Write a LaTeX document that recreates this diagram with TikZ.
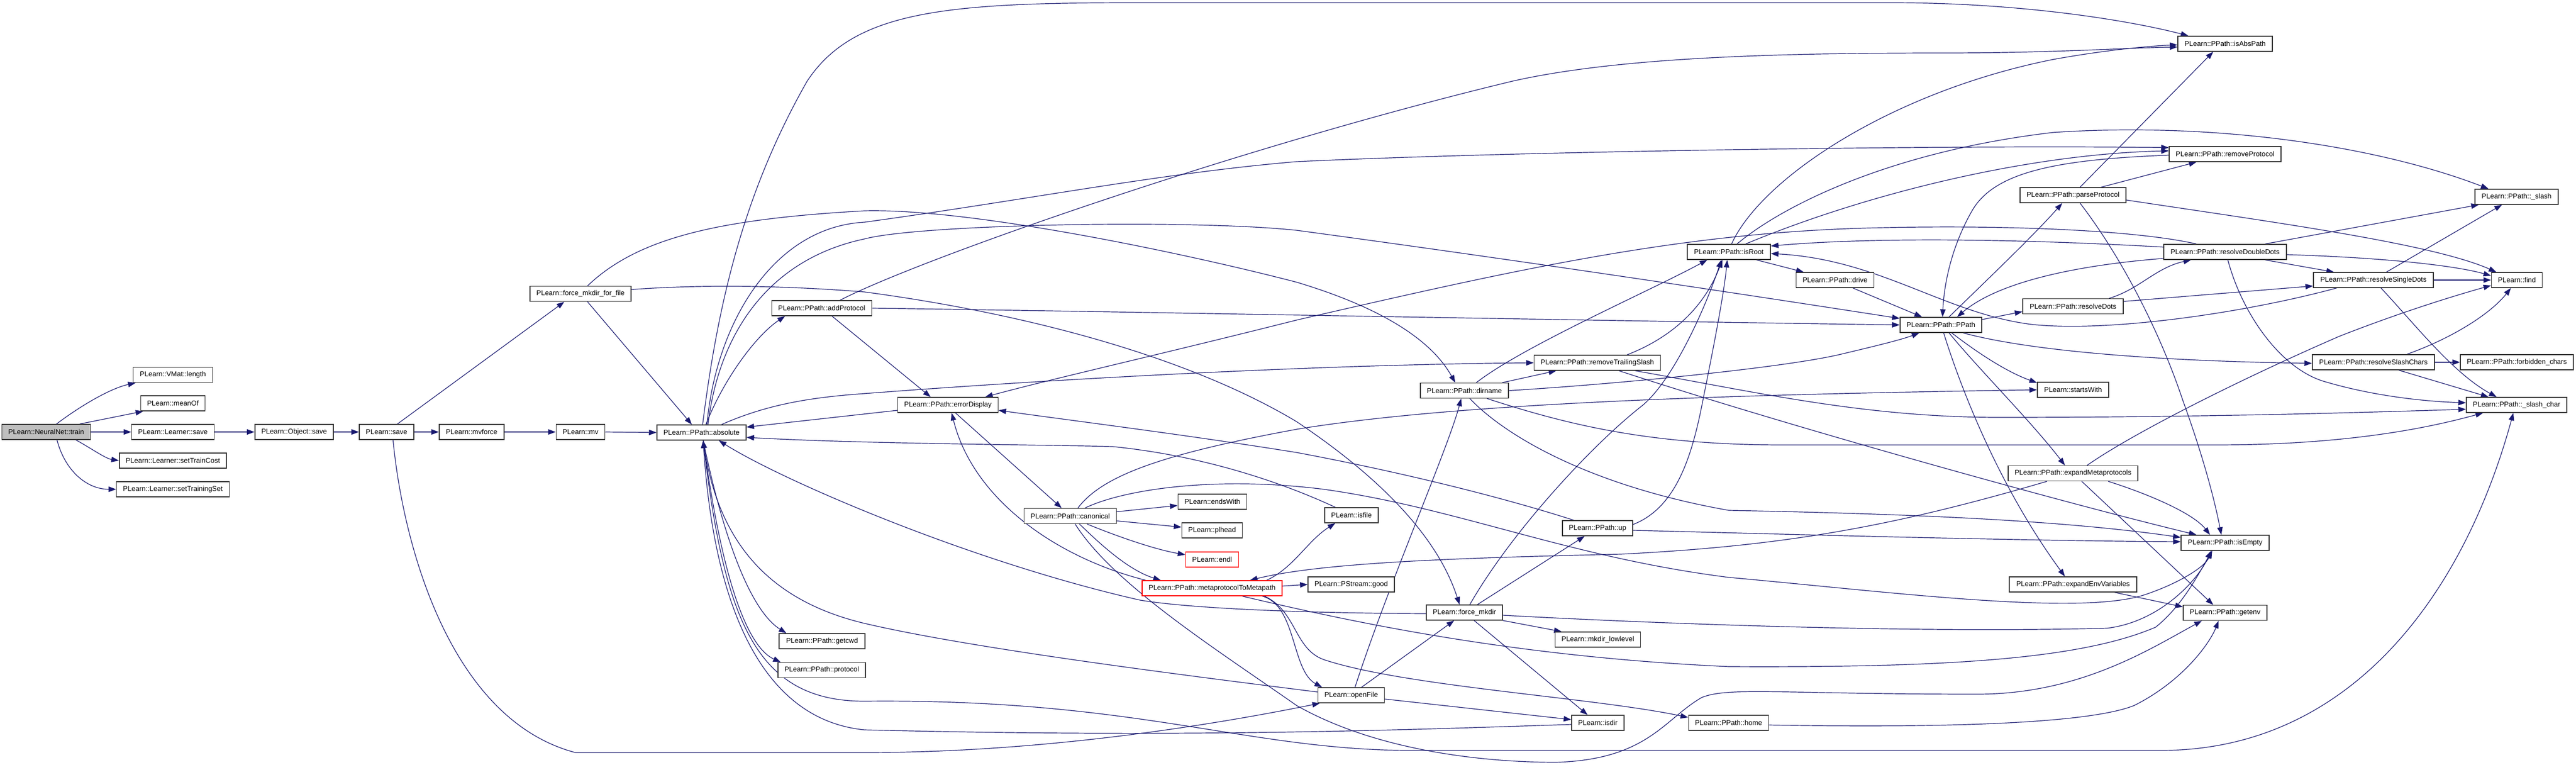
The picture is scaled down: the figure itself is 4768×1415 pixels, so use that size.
\documentclass[tikz,border=0pt]{standalone}
\usepackage{fontspec}
\setmainfont{Liberation Sans}
\usetikzlibrary{arrows.meta,backgrounds}
\definecolor{edgec}{RGB}{25,25,112}
\definecolor{nodeg}{RGB}{191,191,191}
\begin{document}
\begin{tikzpicture}[x=1pt,y=-1pt,
  nb/.style={draw=black!80, line width=1.5pt, fill=white, minimum height=28pt, inner xsep=12pt, inner ysep=0pt, font=\fontsize{13}{15}\selectfont},
  e/.style={draw=edgec, line width=1.2pt, -{Triangle[length=14pt,width=10pt]}}]
\useasboundingbox (0,0) rectangle (4768,1415);
% nodes
\node[nb,fill=nodeg,minimum width=163pt] (train) at (85.5,799) {PLearn::NeuralNet::train};
\node[nb,minimum width=147pt] (vlen) at (320,693.5) {PLearn::VMat::length};
\node[nb,minimum width=118pt] (meanof) at (320,746) {PLearn::meanOf};
\node[nb,minimum width=151pt] (lsave) at (320,799) {PLearn::Learner::save};
\node[nb] (stc) at (320,852) {PLearn::Learner::setTrainCost};
\node[nb] (sts) at (320,905) {PLearn::Learner::setTrainingSet};
\node[nb,minimum width=145pt] (osave) at (544.5,799) {PLearn::Object::save};
\node[nb,minimum width=99pt] (save) at (715.5,799) {PLearn::save};
\node[nb,minimum width=120pt] (mvforce) at (873,799) {PLearn::mvforce};
\node[nb,minimum width=89pt] (mv) at (1074.5,799) {PLearn::mv};
\node[nb,minimum width=185pt] (ffile) at (1074.5,543.5) {PLearn::force\_mkdir\_for\_file};
\node[nb,minimum width=165pt] (abs) at (1298.5,800) {PLearn::PPath::absolute};
\node[nb,minimum width=184pt] (addp) at (1521,570) {PLearn::PPath::addProtocol};
\node[nb,minimum width=159pt] (getcwd) at (1521.5,1186) {PLearn::PPath::getcwd};
\node[nb,minimum width=162pt] (proto) at (1521,1239.5) {PLearn::PPath::protocol};
\node[nb,minimum width=185pt] (errd) at (1754.5,749) {PLearn::PPath::errorDisplay};
\node[nb,minimum width=170pt] (canon) at (1981,954.5) {PLearn::PPath::canonical};
\node[nb,minimum width=126pt] (endsw) at (2244,928) {PLearn::endsWith};
\node[nb,minimum width=109pt] (plhead) at (2243.5,981) {PLearn::plhead};
\node[nb,draw=red,minimum width=95pt] (endl) at (2243.5,1035) {PLearn::endl};
\node[nb,draw=red,minimum width=259pt] (meta) at (2243.5,1088) {PLearn::PPath::metaprotocolToMetapath};
\node[nb,minimum width=99pt] (isfile) at (2501.5,953) {PLearn::isfile};
\node[nb,minimum width=160pt] (good) at (2501,1081) {PLearn::PStream::good};
\node[nb,minimum width=120pt] (openf) at (2501,1286) {PLearn::openFile};
\node[nb,minimum width=161pt] (dirn) at (2710.5,722.5) {PLearn::PPath::dirname};
\node[nb,minimum width=139pt] (fmk) at (2710.5,1133) {PLearn::force\_mkdir};
\node[nb,minimum width=233pt] (rts) at (2956.5,671) {PLearn::PPath::removeTrailingSlash};
\node[nb,minimum width=130pt] (up) at (2957,977) {PLearn::PPath::up};
\node[nb,minimum width=157pt] (mkll) at (2957.5,1183) {PLearn::mkdir\_lowlevel};
\node[nb,minimum width=95pt] (isdir) at (2957.5,1337) {PLearn::isdir};
\node[nb,minimum width=154pt] (isroot) at (3200,466) {PLearn::PPath::isRoot};
\node[nb,minimum width=147pt] (home) at (3199.5,1337) {PLearn::PPath::home};
\node[nb,minimum width=143pt] (drive) at (3396.5,518) {PLearn::PPath::drive};
\node[nb,minimum width=151pt] (ppath) at (3592.5,601) {PLearn::PPath::PPath};
\node[nb,minimum width=196pt] (parsep) at (3837,361) {PLearn::PPath::parseProtocol};
\node[nb,minimum width=186pt] (rdots) at (3837,566.5) {PLearn::PPath::resolveDots};
\node[nb,minimum width=132pt] (startsw) at (3837,721) {PLearn::startsWith};
\node[nb,minimum width=240pt] (expm) at (3837,875.5) {PLearn::PPath::expandMetaprotocols};
\node[nb,minimum width=236pt] (expe) at (3837,1081) {PLearn::PPath::expandEnvVariables};
\node[nb,minimum width=175pt] (isabs) at (4118.5,81) {PLearn::PPath::isAbsPath};
\node[nb,minimum width=207pt] (remp) at (4118.5,285) {PLearn::PPath::removeProtocol};
\node[nb,minimum width=227pt] (rdd) at (4118.5,466) {PLearn::PPath::resolveDoubleDots};
\node[nb,minimum width=163pt] (isempty) at (4118.5,1004) {PLearn::PPath::isEmpty};
\node[nb,minimum width=155pt] (getenv) at (4118.5,1133.5) {PLearn::PPath::getenv};
\node[nb,minimum width=222pt] (rsd) at (4393,518) {PLearn::PPath::resolveSingleDots};
\node[nb,minimum width=226pt] (rsc) at (4393,670) {PLearn::PPath::resolveSlashChars};
\node[nb,minimum width=154pt] (slash) at (4658,364) {PLearn::PPath::\_slash};
\node[nb,minimum width=93pt] (find) at (4658.5,518) {PLearn::find};
\node[nb,minimum width=207pt] (forb) at (4658.5,670) {PLearn::PPath::forbidden\_chars};
\node[nb,minimum width=186pt] (slchar) at (4658,749) {PLearn::PPath::\_slash\_char};
\begin{pgfonlayer}{background}
\fill[white] (0,0) rectangle (4768,1415);
% train and left part
\draw[e] ([xshift=19pt]train.north) .. controls (150,750) and (205,718) .. ([xshift=-69pt]vlen.south);
\draw[e] ([xshift=62pt]train.north) -- ([xshift=-55pt]meanof.south);
\draw[e] (train.east) -- (lsave.west);
\draw[e] ([xshift=55pt]train.south) .. controls (170,830) and (195,848) .. (stc.west);
\draw[e] ([xshift=20pt]train.south) .. controls (120,870) and (160,905) .. (sts.west);
\draw[e] (lsave.east) -- (osave.west);
\draw[e] (osave.east) -- (save.west);
\draw[e] ([xshift=20pt]save.north) -- ([xshift=-30pt]ffile.south);
\draw[e] (save.east) -- (mvforce.west);
\draw[e] ([xshift=12pt]save.south) .. controls (745,1000) and (830,1330) .. (1065,1392) -- (1600,1392) .. controls (1900,1392) and (2200,1350) .. ([xshift=-58pt]openf.south);
\draw[e] (mvforce.east) -- (mv.west);
\draw[e] (mv.east) -- (abs.west);
\draw[e] ([xshift=13pt]ffile.south) -- ([xshift=-18pt]abs.north);
\draw[e] ([xshift=13pt]ffile.north) .. controls (1180,440) and (1330,405) .. (1600,390) .. controls (1800,385) and (2200,470) .. (2400,522) .. controls (2560,570) and (2650,630) .. ([xshift=-17pt]dirn.north);
\draw[e] ([yshift=8pt]ffile.east) .. controls (1300,526) and (1450,528) .. (1600,540) .. controls (1900,580) and (2200,660) .. (2400,780) .. controls (2550,880) and (2660,990) .. ([xshift=-9pt]fmk.north);
% absolute
\draw[e] ([xshift=2pt]abs.north) .. controls (1330,550) and (1380,350) .. (1494,150) .. controls (1580,20) and (1750,5) .. (2100,5) -- (3500,5) .. controls (3750,5) and (3950,40) .. ([xshift=-68pt]isabs.north);
\draw[e] ([xshift=8pt]abs.north) .. controls (1340,700) and (1400,620) .. ([xshift=-68pt]addp.south);
\draw[e] ([xshift=10pt]abs.north) .. controls (1325,600) and (1430,420) .. (1600,411) .. controls (1900,370) and (2150,320) .. (2400,299) .. controls (2800,280) and (3600,268) .. ([yshift=12pt]remp.west);
\draw[e] ([xshift=12pt]abs.north) .. controls (1330,620) and (1420,480) .. (1600,442) .. controls (1700,415) and (2200,405) .. (2400,426) .. controls (2800,480) and (3200,540) .. ([yshift=12pt]ppath.west);
\draw[e] ([xshift=37pt]abs.north) .. controls (1420,748) and (1500,735) .. (1600,728) .. controls (1900,705) and (2400,675) .. (rts.west);
\draw[e] ([xshift=3pt]abs.south) .. controls (1340,1000) and (1390,1130) .. ([xshift=-66pt]getcwd.north);
\draw[e] ([xshift=3pt]abs.south) .. controls (1340,1100) and (1390,1200) .. ([xshift=-76pt]proto.north);
\draw[e] ([xshift=3pt]abs.south) .. controls (1340,1150) and (1400,1297) .. (1600,1297) .. controls (2100,1292) and (2300,1385) .. (2600,1388) -- (4000,1388) .. controls (4350,1388) and (4560,1100) .. ([xshift=-6pt]slchar.south);
% addProtocol
\draw[e] ([xshift=34pt]addp.north) .. controls (1700,480) and (2300,270) .. (2800,150) .. controls (3000,105) and (3300,98) .. (3600,98) .. controls (3800,98) and (3950,88) .. ([yshift=-6pt]isabs.west);
\draw[e] ([xshift=19pt]addp.south) -- ([xshift=-32pt]errd.north);
\draw[e] (addp.east) .. controls (2000,575) and (3000,594) .. (ppath.west);
% errorDisplay, callers of absolute
\draw[e] ([yshift=-10pt]errd.west) -- ([yshift=10pt]abs.east);
\draw[e] ([xshift=14pt]errd.south) -- ([xshift=-16pt]canon.north);
\draw[e] ([xshift=-30pt]isfile.north) .. controls (2400,905) and (2250,845) .. (2059,826) .. controls (1900,822) and (1600,821) .. ([yshift=-9pt]abs.east);
\draw[e] ([yshift=-2pt]fmk.west) .. controls (2400,1134) and (2200,1125) .. (2110,1110) .. controls (1800,1040) and (1450,890) .. ([xshift=32pt]abs.south);
\draw[e] ([yshift=6pt]openf.west) .. controls (2200,1250) and (1800,1200) .. (1600,1153) .. controls (1420,1110) and (1330,1000) .. ([xshift=3pt]abs.south);
\draw[e] ([yshift=-3pt]isdir.west) .. controls (2600,1350) and (2200,1365) .. (1600,1350) .. controls (1400,1330) and (1320,1100) .. ([xshift=3pt]abs.south);
% canonical
\draw[e] ([yshift=8pt]canon.east) -- ([yshift=-7pt]endsw.west);
\draw[e] ([yshift=-9pt]canon.east) -- ([yshift=6pt]plhead.west);
\draw[e] ([xshift=31pt]canon.south) .. controls (2050,985) and (2130,1015) .. ([yshift=9pt]endl.west);
\draw[e] ([xshift=17pt]canon.south) .. controls (2040,1010) and (2090,1055) .. ([xshift=-95pt]meta.north);
\draw[e] ([xshift=14pt]canon.north) .. controls (2040,880) and (2150,840) .. (2400,794) .. controls (2700,745) and (3200,730) .. (startsw.west);
\draw[e] ([xshift=27pt]canon.north) .. controls (2080,905) and (2250,880) .. (2450,905) .. controls (2700,940) and (2900,1030) .. (3200,1068) .. controls (3500,1095) and (3850,1140) .. (3970,1100) .. controls (4030,1080) and (4080,1050) .. ([xshift=-24pt]isempty.south);
\draw[e] ([xshift=9pt]canon.south) .. controls (2060,1080) and (2250,1200) .. (2400,1305) .. controls (2550,1390) and (2750,1410) .. (2880,1410) .. controls (3050,1405) and (3080,1330) .. (3150,1290) .. controls (3200,1270) and (3300,1284) .. (3660,1284) .. controls (3850,1284) and (3980,1200) .. ([xshift=-43pt]getenv.south);
% metaprotocolToMetapath
\draw[e] ([xshift=-123pt]meta.north) .. controls (1950,1030) and (1800,920) .. ([xshift=7pt]errd.south);
\draw[e] ([xshift=101pt]meta.north) .. controls (2395,1050) and (2420,1000) .. ([xshift=-30pt]isfile.south);
\draw[e] ([xshift=-48pt]expm.south) .. controls (3500,975) and (3300,1010) .. (3000,1025) .. controls (2700,1032) and (2450,1040) .. ([xshift=70pt]meta.north);
\draw[e] ([yshift=4pt]meta.east) -- (good.west);
\draw[e] ([xshift=93pt]meta.south) .. controls (2400,1120) and (2390,1240) .. ([xshift=-54pt]openf.north);
\draw[e] ([xshift=97pt]meta.south) .. controls (2400,1130) and (2395,1200) .. (2450,1220) .. controls (2600,1270) and (2950,1290) .. ([yshift=10pt]home.west);
\draw[e] ([xshift=56pt]meta.south) .. controls (2500,1150) and (2800,1215) .. (3200,1233) .. controls (3600,1235) and (3850,1220) .. (3990,1160) .. controls (4040,1120) and (4070,1060) .. ([xshift=-24pt]isempty.south);
% expand*
\draw[e] ([xshift=26pt]expm.north) .. controls (3950,800) and (4150,700) .. (4330,622) .. controls (4450,575) and (4550,545) .. ([yshift=-10pt]find.west);
\draw[e] ([xshift=65pt]expm.south) .. controls (3980,915) and (4060,950) .. ([xshift=-28pt]isempty.north);
\draw[e] ([xshift=16pt]expm.south) -- ([xshift=-22pt]getenv.north);
\draw[e] ([xshift=77pt]expe.south) -- ([yshift=11pt]getenv.west);
\draw[e] ([yshift=-4pt]home.east) .. controls (3500,1345) and (3850,1345) .. (3950,1305) .. controls (4040,1260) and (4090,1190) .. ([xshift=-12pt]getenv.south);
% up
\draw[e] ([xshift=-44pt]up.north) .. controls (2750,910) and (2550,865) .. (2400,837) .. controls (2200,805) and (2000,780) .. ([yshift=-10pt]errd.east);
\draw[e] ([yshift=7pt]up.east) .. controls (3100,940) and (3130,850) .. (3150,750) .. controls (3170,650) and (3190,550) .. ([xshift=-3pt]isroot.south);
\draw[e] ([yshift=-4pt]up.east) .. controls (3200,985) and (3700,1000) .. ([yshift=2pt]isempty.west);
% resolveDoubleDots -> errorDisplay
\draw[e] ([xshift=-53pt]rdd.north) .. controls (3950,425) and (3700,415) .. (3450,422) .. controls (3100,432) and (2800,500) .. (2400,592) .. controls (2150,655) and (1950,700) .. ([xshift=69pt]errd.north);
% openFile
\draw[e] ([xshift=7pt]openf.north) .. controls (2570,1080) and (2680,830) .. ([xshift=-6pt]dirn.south);
\draw[e] ([xshift=19pt]openf.north) -- ([xshift=-19pt]fmk.south);
\draw[e] ([yshift=-7pt]openf.east) -- ([yshift=6pt]isdir.west);
% force_mkdir
\draw[e] ([xshift=24pt]fmk.north) -- ([xshift=-24pt]up.south);
\draw[e] (fmk.south east) -- ([xshift=-67pt]mkll.north);
\draw[e] ([xshift=18pt]fmk.south) -- ([xshift=-19pt]isdir.north);
\draw[e] ([xshift=10pt]fmk.north) .. controls (2800,980) and (2950,820) .. (3040,750) .. controls (3100,700) and (3160,560) .. ([xshift=-14pt]isroot.south);
\draw[e] ([yshift=-5pt]fmk.east) .. controls (3000,1150) and (3500,1172) .. (3900,1162) .. controls (4000,1150) and (4070,1070) .. ([xshift=-26pt]isempty.south);
% dirname
\draw[e] ([xshift=10pt]dirn.south) .. controls (2790,810) and (2950,900) .. (3200,944) .. controls (3500,950) and (3800,960) .. ([yshift=10pt]isempty.west);
\draw[e] ([xshift=42pt]dirn.south) .. controls (2900,785) and (3050,823) .. (3300,823) -- (4100,823) .. controls (4350,823) and (4500,790) .. ([xshift=-62pt]slchar.south);
\draw[e] ([xshift=70pt]dirn.north) -- ([xshift=-76pt]rts.south);
\draw[e] ([xshift=22pt]dirn.north) .. controls (2820,640) and (3050,540) .. ([xshift=-40pt]isroot.south);
\draw[e] (dirn.east) .. controls (3000,710) and (3300,680) .. (3404,656) .. controls (3480,638) and (3520,628) .. ([xshift=-40pt]ppath.south);
% removeTrailingSlash
\draw[e] ([xshift=55pt]rts.north) .. controls (3080,630) and (3150,580) .. ([xshift=-12pt]isroot.south);
\draw[e] ([xshift=70pt]rts.south) .. controls (3250,725) and (3450,772) .. (3700,772) .. controls (4100,772) and (4400,762) .. ([yshift=-8pt]slchar.west);
\draw[e] ([xshift=40pt]rts.south) .. controls (3300,785) and (3800,925) .. ([xshift=-53pt]isempty.north);
% isRoot
\draw[e] ([xshift=5pt]isroot.north) .. controls (3260,330) and (3500,170) .. (3800,110) .. controls (3900,92) and (3980,85) .. ([yshift=-2pt]isabs.west);
\draw[e] ([xshift=15pt]isroot.north) .. controls (3300,380) and (3500,280) .. (3800,245) .. controls (4100,225) and (4400,270) .. ([xshift=-52pt]slash.north);
\draw[e] ([xshift=31pt]isroot.north) .. controls (3450,360) and (3750,285) .. ([yshift=6pt]remp.west);
\draw[e] ([xshift=51pt]isroot.south) -- ([xshift=-58pt]drive.north);
\draw[e] ([xshift=33pt]drive.south) -- ([xshift=-35pt]ppath.north);
\draw[e] ([yshift=-2pt]remp.west) .. controls (3800,295) and (3690,320) .. (3650,390) .. controls (3610,460) and (3598,530) .. ([xshift=3pt]ppath.north);
% parseProtocol
\draw[e] ([xshift=13pt]parsep.north) -- ([xshift=-22pt]isabs.south);
\draw[e] ([xshift=52pt]parsep.north) -- ([xshift=-53pt]remp.south);
\draw[e] ([yshift=-9pt]parsep.east) .. controls (4200,410) and (4500,450) .. ([xshift=-38pt]find.north);
\draw[e] ([xshift=13pt]parsep.south) .. controls (3930,480) and (4000,620) .. (4040,740) .. controls (4080,850) and (4100,930) .. ([xshift=-7pt]isempty.north);
% PPath
\draw[e] ([xshift=15pt]ppath.north) .. controls (3670,525) and (3760,440) .. ([xshift=-20pt]parsep.south);
\draw[e] ([yshift=10pt]ppath.east) -- ([yshift=-10pt]rdots.west);
\draw[e] ([xshift=41pt]ppath.south) .. controls (3760,650) and (4000,668) .. ([yshift=-2pt]rsc.west);
\draw[e] ([xshift=5pt]ppath.south) .. controls (3630,720) and (3700,900) .. ([xshift=-15pt]expe.north);
\draw[e] ([xshift=15pt]ppath.south) .. controls (3660,680) and (3760,780) .. ([xshift=-15pt]expm.north);
\draw[e] ([xshift=20pt]ppath.south) .. controls (3670,660) and (3720,690) .. ([yshift=13pt]startsw.west);
% resolveDots
\draw[e] ([xshift=67pt]rdots.north) .. controls (3960,535) and (3990,495) .. ([xshift=-63pt]rdd.south);
\draw[e] ([yshift=9pt]rdots.east) -- ([yshift=-11pt]rsd.west);
% resolveDoubleDots
\draw[e] ([yshift=9pt]rdd.west) .. controls (3700,440) and (3450,440) .. ([yshift=11pt]isroot.east);
\draw[e] ([yshift=-12pt]rdd.west) .. controls (3850,490) and (3700,520) .. ([xshift=30pt]ppath.north);
\draw[e] ([xshift=74pt]rdd.north) -- ([xshift=-70pt]slash.south);
\draw[e] ([xshift=74pt]rdd.south) -- ([xshift=-73pt]rsd.north);
\draw[e] ([yshift=-5pt]rdd.east) .. controls (4400,476) and (4540,490) .. ([yshift=8pt]find.west);
\draw[e] ([xshift=5pt]rdd.south) .. controls (4150,580) and (4220,680) .. (4300,705) .. controls (4400,735) and (4500,743) .. ([yshift=4pt]slchar.west);
% resolveSingleDots
\draw[e] ([xshift=-68pt]rsd.south) .. controls (4150,580) and (3900,615) .. (3760,600) .. controls (3600,580) and (3480,480) .. ([yshift=-3pt]isroot.east);
\draw[e] ([xshift=24pt]rsd.north) -- ([xshift=-27pt]slash.south);
\draw[e] (rsd.east) -- (find.west);
\draw[e] ([xshift=14pt]rsd.south) .. controls (4470,600) and (4540,690) .. ([xshift=-37pt]slchar.north);
% resolveSlashChars
\draw[e] ([xshift=62pt]rsc.north) .. controls (4540,625) and (4610,580) .. ([xshift=-11pt]find.south);
\draw[e] (rsc.east) -- (forb.west);
\draw[e] ([xshift=47pt]rsc.south) -- ([xshift=-52pt]slchar.north);
\end{pgfonlayer}
\end{tikzpicture}
\end{document}
